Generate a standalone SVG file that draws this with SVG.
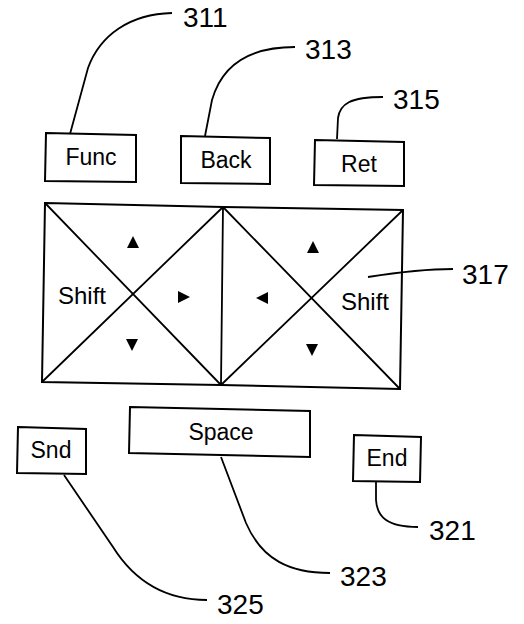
<svg xmlns="http://www.w3.org/2000/svg" width="524" height="624" viewBox="0 0 524 624">
<style>
.box{fill:#fff;stroke:#000;stroke-width:2}
.ln{fill:none;stroke:#000;stroke-width:1.8}
.key{font-family:"Liberation Sans",Arial,sans-serif;font-size:23px;fill:#000;text-anchor:middle}
.num{font-family:"Liberation Sans",Arial,sans-serif;font-size:28px;fill:#000}
.tri{fill:#000}
</style>
<rect width="524" height="624" fill="#fff"/>
<g id="n311"><text class="num" x="183" y="27">311</text></g>
<g id="n313"><text class="num" x="305" y="59">313</text></g>
<g id="n315"><text class="num" x="393" y="109">315</text></g>
<g id="n317"><text class="num" x="462" y="284">317</text></g>
<g id="n321"><text class="num" x="429" y="540">321</text></g>
<g id="n323"><text class="num" x="340" y="586">323</text></g>
<g id="n325"><text class="num" x="217" y="614">325</text></g>
<g id="func"><polygon class="box" points="46,133 136,135 136,182 45,181"/><text class="key" x="91" y="165">Func</text></g>
<g id="back"><polygon class="box" points="181,136 270,138 270,184 181,183"/><text class="key" x="226" y="168">Back</text></g>
<g id="ret"><polygon class="box" points="315,140 404,142 404,186 314,185"/><text class="key" x="359" y="172">Ret</text></g>
<g id="pad">
<polygon class="box" points="45,203 223,207 403,210 400,389 221,385 42,382"/>
<path class="ln" d="M223,207 L221,385 M45,203 L221,385 M42,382 L223,207 M223,207 L400,389 M221,385 L403,210"/>
<polygon class="tri" points="133,236 127,248 139,248"/>
<polygon class="tri" points="178,291 178,303 190,297"/>
<polygon class="tri" points="126,339 138,339 132,351"/>
<polygon class="tri" points="313,241 307,253 319,253"/>
<polygon class="tri" points="268,292 268,304 256,298"/>
<polygon class="tri" points="306,344 318,344 312,356"/>
<text class="key" x="82" y="304" style="font-size:24px">Shift</text>
<text class="key" x="365" y="310" style="font-size:24px">Shift</text>
</g>
<g id="snd"><polygon class="box" points="18,427 86,429 86,474 17,473"/><text class="key" x="51" y="458">Snd</text></g>
<g id="space"><polygon class="box" points="130,407 310,411 310,457 129,453"/><text class="key" x="221" y="440">Space</text></g>
<g id="end"><polygon class="box" points="354,435 421,437 420,482 353,481"/><text class="key" x="387" y="466">End</text></g>
<g id="connectors">
<path class="ln" d="M70,134 L88,68 C100,35 130,14 172,13"/>
<path class="ln" d="M205,136 L212,100 C222,65 250,47 295,47"/>
<path class="ln" d="M337,139 L338,118 C340,104 350,97 383,97"/>
<path class="ln" d="M368,277 C400,272 425,269 453,269"/>
<path class="ln" d="M376,482 L376,500 C377,516 386,527 418,527"/>
<path class="ln" d="M221,457 L246,523 C262,560 290,573 330,573"/>
<path class="ln" d="M64,475 L113,547 C135,582 165,600 207,600"/>
</g>
</svg>
